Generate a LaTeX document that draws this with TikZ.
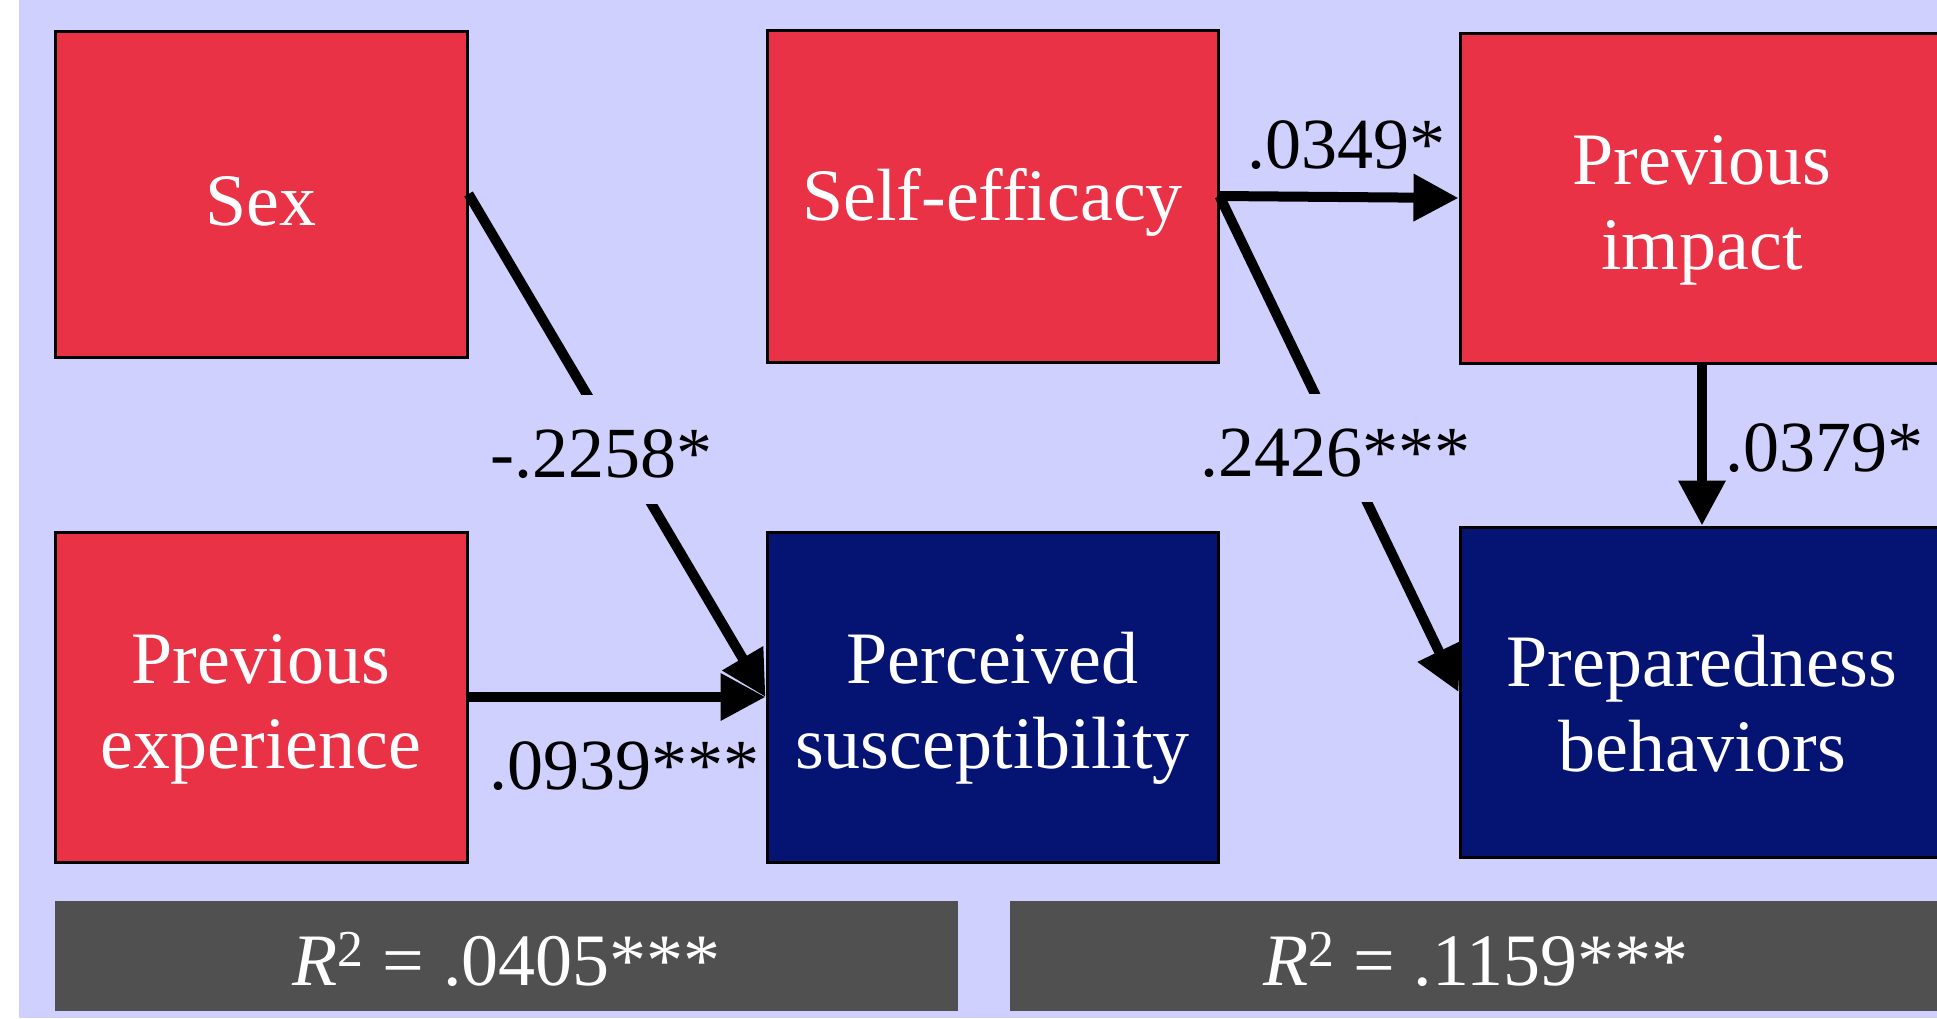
\documentclass[tikz,border=0pt]{standalone}
\usepackage{fontspec}
\setmainfont{Liberation Serif}
\usetikzlibrary{arrows.meta}
\definecolor{bgpanel}{RGB}{208,208,255}
\definecolor{predred}{RGB}{234,50,70}
\definecolor{outnavy}{RGB}{5,20,115}
\definecolor{statgray}{RGB}{80,80,80}
% invisible struts that set the vertical placement of box text
\newcommand{\onestrut}{\rule{0pt}{32pt}}
\newcommand{\twostrut}{\rule{0pt}{37pt}}

\begin{document}
\begin{tikzpicture}[x=0.5pt,y=-0.5pt,
  box/.style={draw=black, line width=1.5pt, inner sep=0pt, text=white, align=center,
    font=\fontsize{37}{42.5}\selectfont},
  pred/.style={box, fill=predred},
  outc/.style={box, fill=outnavy},
  stat/.style={fill=statgray, text=white, inner sep=0pt, minimum height=55pt,
    text height=29pt, text depth=0pt, font=\fontsize{37}{42.5}\selectfont},
  path arrow/.style={line width=5pt, -{Triangle[length=22.5pt,width=22.5pt]}},
  coef/.style={text=black, inner sep=0pt, font=\fontsize{36}{40}\selectfont},
  gapcoef/.style={coef, fill=bgpanel, text height=28.3pt, text depth=0pt,
    inner ysep=13pt, inner xsep=2pt}
]
\useasboundingbox (0,0) rectangle (1937,1018);
\clip (0,0) rectangle (1937,1018);
\fill[white] (0,0) rectangle (1937,1018);
\fill[bgpanel] (19,0) rectangle (1937,1018);

% predictors and outcomes
\node[pred, minimum width=206pt, minimum height=163pt] (sex) at (261,194) {\onestrut Sex};
\node[pred, minimum width=206pt, minimum height=165pt] (prevexp) at (261,697) {\twostrut Previous\\experience};
\node[pred, minimum width=225.5pt, minimum height=166pt] (selfeff) at (992.5,196) {\onestrut Self-efficacy};
\node[outc, minimum width=225.5pt, minimum height=165pt] (percsus) at (992.5,697) {\twostrut Perceived\\susceptibility};
\node[pred, minimum width=242pt, minimum height=165pt] (previmp) at (1702,198) {\twostrut Previous\\impact};
\node[outc, minimum width=242pt, minimum height=165pt] (prepbeh) at (1702,692) {\twostrut Preparedness\\behaviors};

% explained variance bars
\node[stat, minimum width=451.5pt] (rsq1) at (506.5,956) {\textit{R}\textsuperscript{2} = .0405***};
\node[stat, minimum width=466pt] (rsq2) at (1476,956) {\textit{R}\textsuperscript{2} = .1159***};

% path coefficients
\draw[path arrow] (sex.east) -- node[gapcoef, pos=0.508, xshift=-9pt] {-.2258*} (percsus.west);
\draw[path arrow] (prevexp.east) -- node[coef, below=20pt, xshift=3.5pt] {.0939***} (percsus.west);
\draw[path arrow] (selfeff.east) -- node[coef, above=11pt, xshift=3.5pt] {.0349*} (previmp.west);
\draw[path arrow] (selfeff.east) -- node[gapcoef, pos=0.508, xshift=-2.5pt] {.2426***} (prepbeh.west);
\draw[path arrow] (previmp.south) -- node[coef, right=9pt, yshift=-1.5pt] {.0379*} (prepbeh.north);
\end{tikzpicture}
\end{document}
